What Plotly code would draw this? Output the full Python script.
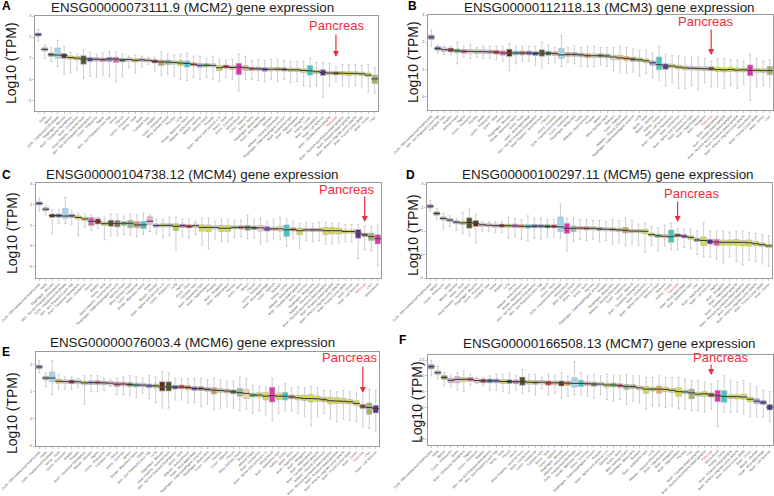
import plotly.graph_objects as go

# ---------------- data ----------------
NAMES = {
    "ADS": "Adipose - Subcutaneous", "ADV": "Adipose - Visceral (Omentum)", "ADR": "Adrenal Gland",
    "AAO": "Artery - Aorta", "ACO": "Artery - Coronary", "ATI": "Artery - Tibial", "BLA": "Bladder",
    "BAM": "Brain - Amygdala", "BAC": "Brain - Anterior cingulate cortex (BA24)",
    "BCA": "Brain - Caudate (basal ganglia)", "BCH": "Brain - Cerebellar Hemisphere",
    "BCE": "Brain - Cerebellum", "BCO": "Brain - Cortex", "BFC": "Brain - Frontal Cortex (BA9)",
    "BHI": "Brain - Hippocampus", "BHY": "Brain - Hypothalamus",
    "BNA": "Brain - Nucleus accumbens (basal ganglia)", "BPU": "Brain - Putamen (basal ganglia)",
    "BSC": "Brain - Spinal cord (cervical c-1)", "BSN": "Brain - Substantia nigra",
    "BRE": "Breast - Mammary Tissue", "LCL": "Cells - EBV-transformed lymphocytes",
    "FIB": "Cells - Transformed fibroblasts", "CEC": "Cervix - Ectocervix", "CEN": "Cervix - Endocervix",
    "COS": "Colon - Sigmoid", "COT": "Colon - Transverse", "EGJ": "Esophagus - Gastroesophageal Junction",
    "EMU": "Esophagus - Mucosa", "EMS": "Esophagus - Muscularis", "FAL": "Fallopian Tube",
    "HAA": "Heart - Atrial Appendage", "HLV": "Heart - Left Ventricle", "KID": "Kidney - Cortex",
    "LIV": "Liver", "LUN": "Lung", "MSG": "Minor Salivary Gland", "MUS": "Muscle - Skeletal",
    "NER": "Nerve - Tibial", "OVA": "Ovary", "PAN": "Pancreas", "PIT": "Pituitary", "PRO": "Prostate",
    "SKN": "Skin - Not Sun Exposed (Suprapubic)", "SKS": "Skin - Sun Exposed (Lower leg)",
    "SIN": "Small Intestine - Terminal Ileum", "SPL": "Spleen", "STO": "Stomach", "TES": "Testis",
    "THY": "Thyroid", "UTE": "Uterus", "VAG": "Vagina", "WBL": "Whole Blood",
}

TITLES = ["ENSG00000073111.9 (MCM2) gene expression",
          "ENSG00000112118.13 (MCM3) gene expression",
          "ENSG00000104738.12 (MCM4) gene expression",
          "ENSG00000100297.11 (MCM5) gene expression",
          "ENSG00000076003.4 (MCM6) gene expression",
          "ENSG00000166508.13 (MCM7) gene expression"]
LETTERS = ["A", "B", "C", "D", "E", "F"]

A_tissues = ["LCL","TES","SPL","FIB","EMU","BCH","BCE","SIN","SKN","CEN","VAG","SKS","UTE","THY","CEC","NER","OVA","FAL","BLA","COT","MSG","PIT","LUN","BRE","ADS","MUS","ADR","PRO","BSC","ATI","ACO","WBL","COS","AAO","EMS","HAA","STO","ADV","EGJ","BSN","BHY","BAM","KID","BHI","HLV","BCA","PAN","BNA","BPU","BAC","BFC","BCO","LIV"]
A_med = [2.12,1.42,1.17,1.15,1.12,1.03,1.0,0.96,0.96,0.95,0.93,0.97,0.96,0.91,0.94,0.9,0.92,0.9,0.85,0.82,0.82,0.8,0.77,0.75,0.71,0.66,0.67,0.66,0.55,0.6,0.56,0.58,0.55,0.5,0.5,0.47,0.48,0.48,0.47,0.45,0.45,0.42,0.4,0.36,0.33,0.3,0.29,0.29,0.28,0.28,0.26,0.2,0.02]
A_q1 = [2.04,1.34,1.08,1.0,1.0,0.95,0.92,0.72,0.85,0.87,0.85,0.84,0.8,0.83,0.86,0.82,0.84,0.82,0.77,0.66,0.7,0.72,0.65,0.58,0.63,0.56,0.59,0.58,0.42,0.52,0.48,0.22,0.42,0.42,0.42,0.38,0.4,0.4,0.39,0.37,0.37,0.32,0.2,0.28,0.18,0.22,0.21,0.2,0.18,0.2,0.18,0.12,-0.2]
A_q3 = [2.2,1.5,1.25,1.48,1.22,1.11,1.08,1.12,1.04,1.03,1.01,1.05,1.05,0.99,1.02,0.98,1.0,0.98,0.93,0.92,0.92,0.88,0.88,0.87,0.79,0.76,0.75,0.74,0.65,0.68,0.64,0.76,0.65,0.58,0.58,0.56,0.56,0.56,0.55,0.53,0.53,0.5,0.65,0.44,0.45,0.38,0.37,0.37,0.36,0.36,0.34,0.3,0.2]
A_lo = [1.82,1.0,0.85,0.62,0.25,0.3,0.45,0.05,0.15,0.1,0.2,0.12,-0.1,0.12,0.55,0.3,0.6,0.7,0.4,0.2,0.25,0.15,0.0,-0.05,0.1,0.0,0.1,0.0,-0.1,0.1,0.0,-0.55,0.0,0.0,-0.05,-0.1,0.0,-0.1,0.0,-0.15,-0.1,-0.3,-0.35,-0.3,-0.85,-0.3,-0.1,-0.3,-0.35,-0.3,-0.35,-0.6,-0.65]
A_hi = [2.35,1.62,1.5,1.85,1.55,1.28,1.2,1.4,1.28,1.2,1.25,1.32,1.3,1.2,1.1,1.15,1.1,1.05,1.05,1.3,1.2,1.15,1.2,1.25,1.1,1.1,1.0,1.1,0.95,0.9,0.95,1.2,1.1,0.9,0.95,0.9,0.95,0.95,0.9,0.85,0.85,0.85,1.0,0.8,0.8,0.75,0.6,0.7,0.7,0.72,0.65,0.7,0.55]

B_tissues = ["LCL","SKS","FAL","BLA","ADR","VAG","CEC","PIT","OVA","CEN","ATI","UTE","EMU","BRE","AAO","HAA","SKN","SIN","THY","ACO","FIB","COT","EMS","TES","ADS","PRO","SPL","MSG","STO","COS","ADV","EGJ","LUN","NER","MUS","KID","HLV","BCH","BCE","BSC","BSN","BHY","BAM","PAN","BHI","BCA","BNA","BPU","BAC","WBL","BFC","BCO","LIV"]
B_med = [2.18,1.77,1.72,1.71,1.68,1.66,1.66,1.65,1.65,1.64,1.63,1.6,1.6,1.6,1.6,1.6,1.58,1.6,1.59,1.58,1.53,1.55,1.55,1.53,1.5,1.5,1.5,1.49,1.45,1.42,1.4,1.37,1.35,1.31,1.24,1.17,1.12,1.12,1.08,1.05,1.04,1.03,1.02,1.02,0.99,0.98,0.99,0.97,0.98,0.96,0.96,0.95,0.95]
B_q1 = [2.1,1.7,1.65,1.64,1.61,1.59,1.59,1.58,1.58,1.57,1.56,1.52,1.47,1.53,1.53,1.53,1.51,1.48,1.52,1.51,1.4,1.48,1.48,1.46,1.43,1.43,1.43,1.42,1.35,1.35,1.33,1.3,1.28,1.24,1.15,0.98,1.0,1.05,1.01,0.98,0.97,0.96,0.95,0.95,0.92,0.9,0.92,0.9,0.91,0.76,0.89,0.88,0.8]
B_q3 = [2.26,1.84,1.79,1.78,1.75,1.73,1.73,1.72,1.72,1.71,1.7,1.68,1.74,1.67,1.67,1.67,1.65,1.72,1.66,1.65,1.77,1.62,1.62,1.6,1.57,1.57,1.57,1.56,1.52,1.52,1.47,1.44,1.42,1.38,1.31,1.45,1.2,1.19,1.15,1.12,1.11,1.1,1.09,1.09,1.07,1.05,1.06,1.05,1.05,1.16,1.03,1.02,1.1]
B_lo = [1.85,1.6,1.55,1.55,1.2,1.45,1.4,1.45,1.4,1.4,1.35,1.3,0.95,1.2,1.3,1.3,1.15,1.05,1.2,1.25,1.1,1.25,1.2,1.1,1.1,1.1,1.15,1.1,0.95,0.9,0.85,0.9,0.75,0.85,0.7,0.6,0.4,0.5,0.3,0.3,0.4,0.25,0.5,0.35,0.35,0.3,0.4,0.3,0.45,-0.15,0.35,0.4,0.35]
B_hi = [2.45,1.9,1.85,1.85,2.0,1.85,1.9,1.8,1.85,1.85,1.85,1.85,1.95,1.85,1.85,1.85,1.85,2.0,1.9,1.8,2.25,1.8,1.85,1.8,1.85,1.85,1.8,1.8,1.8,1.85,1.8,1.75,1.7,1.7,1.6,1.85,1.55,1.5,1.5,1.45,1.45,1.45,1.4,1.3,1.4,1.4,1.35,1.35,1.3,1.55,1.4,1.3,1.35]

C_tissues = ["LCL","TES","EMU","SKN","FIB","SKS","BCH","BCE","UTE","BLA","NER","SIN","EGJ","ADR","MSG","COT","BRE","OVA","MUS","BSC","CEN","LUN","VAG","ATI","FAL","BSN","BHY","PRO","BAM","BHI","PIT","AAO","SPL","THY","CEC","HAA","COS","STO","KID","ADS","BCA","ACO","EMS","ADV","BNA","BPU","BAC","BFC","BCO","HLV","PAN","LIV","WBL"]
C_med = [2.06,1.78,1.47,1.47,1.45,1.46,1.38,1.31,1.2,1.18,1.08,1.1,1.08,1.1,1.1,1.02,1.02,1.2,0.99,1.0,1.0,0.95,0.98,0.95,0.98,0.9,0.9,0.9,0.86,0.86,0.9,0.9,0.9,0.88,0.88,0.82,0.83,0.83,0.78,0.8,0.74,0.78,0.78,0.78,0.74,0.74,0.74,0.7,0.7,0.62,0.54,0.45,0.35]
C_q1 = [1.98,1.7,1.38,1.39,1.34,1.38,1.3,1.23,0.99,1.06,1.0,0.95,0.92,1.0,0.88,0.88,0.84,1.04,0.91,0.92,0.92,0.75,0.9,0.87,0.9,0.72,0.7,0.82,0.7,0.7,0.82,0.82,0.76,0.8,0.72,0.72,0.75,0.72,0.46,0.72,0.55,0.7,0.7,0.7,0.55,0.58,0.58,0.62,0.62,0.38,0.46,0.26,0.1]
C_q3 = [2.14,1.86,1.55,1.55,1.82,1.54,1.46,1.39,1.38,1.32,1.16,1.25,1.24,1.18,1.25,1.18,1.18,1.42,1.07,1.08,1.08,1.08,1.06,1.03,1.06,1.03,1.02,0.98,1.0,1.0,0.98,0.98,1.0,0.96,1.0,0.95,0.91,0.95,1.02,0.88,0.87,0.86,0.86,0.86,0.9,0.9,0.87,0.78,0.78,0.8,0.62,0.62,0.55]
C_lo = [1.7,1.5,0.62,1.1,1.1,1.05,0.5,0.9,0.75,0.85,0.3,0.5,0.5,0.55,0.5,0.45,0.55,0.7,0.6,0.4,0.5,-0.2,0.45,0.4,0.55,0.05,-0.15,0.35,0.2,0.2,0.4,0.45,0.35,0.4,0.1,0.2,0.35,0.3,0.0,0.35,-0.1,0.25,0.2,0.25,0.1,0.1,0.15,0.2,0.2,-0.6,-0.2,-0.25,-0.95]
C_hi = [2.3,1.95,1.75,1.75,2.35,1.75,1.6,1.55,1.5,1.4,1.4,1.55,1.55,1.45,1.55,1.5,1.6,1.5,1.3,1.3,1.4,1.4,1.3,1.3,1.2,1.35,1.35,1.2,1.3,1.3,1.25,1.25,1.5,1.3,1.35,1.2,1.3,1.4,1.3,1.2,1.1,1.15,1.1,1.15,1.15,1.1,1.1,1.05,1.05,1.05,0.95,0.95,1.0]

D_tissues = ["LCL","SPL","CEN","TES","MUS","NER","SIN","EMU","CEC","FAL","OVA","BLA","LUN","UTE","ADS","BRE","SKN","SKS","THY","ATI","FIB","WBL","MSG","ACO","AAO","PIT","EGJ","PRO","EMS","ADV","COT","COS","BCH","BCE","BSC","ADR","STO","KID","PAN","HAA","BSN","LIV","BHY","HLV","VAG","BAM","BHI","BCA","BNA","BPU","BAC","BFC","BCO"]
D_med = [2.06,1.75,1.54,1.47,1.38,1.35,1.37,1.33,1.27,1.25,1.23,1.23,1.23,1.22,1.21,1.2,1.21,1.21,1.2,1.2,1.18,1.12,1.12,1.13,1.12,1.12,1.09,1.08,1.07,1.05,1.03,1.0,1.0,0.99,0.85,0.8,0.78,0.76,0.82,0.78,0.73,0.62,0.6,0.55,0.53,0.52,0.52,0.52,0.52,0.5,0.46,0.42,0.37]
D_q1 = [1.98,1.68,1.47,1.4,1.31,1.28,1.12,1.2,1.2,1.18,1.16,1.16,1.16,1.15,1.14,1.12,1.14,1.14,1.13,1.13,0.98,0.9,0.98,1.06,1.05,1.05,1.02,1.01,1.0,0.98,0.92,0.93,0.93,0.88,0.78,0.73,0.71,0.52,0.75,0.71,0.65,0.55,0.38,0.45,0.38,0.4,0.4,0.4,0.38,0.36,0.38,0.34,0.3]
D_q3 = [2.13,1.82,1.61,1.54,1.45,1.42,1.57,1.45,1.34,1.32,1.3,1.3,1.3,1.3,1.28,1.28,1.28,1.28,1.27,1.27,1.6,1.33,1.22,1.2,1.19,1.19,1.16,1.15,1.14,1.12,1.16,1.07,1.07,1.08,0.92,0.87,0.85,1.05,0.89,0.85,0.8,0.7,0.75,0.65,0.65,0.62,0.62,0.64,0.6,0.62,0.56,0.5,0.44]
D_lo = [1.85,1.5,1.1,1.2,1.05,0.9,0.8,0.5,1.0,1.0,0.95,0.95,0.7,0.75,0.65,0.6,0.7,0.65,0.75,0.75,0.7,0.15,0.55,0.65,0.6,0.65,0.55,0.6,0.45,0.5,0.4,0.45,0.4,0.1,0.4,0.15,0.35,0.2,0.2,0.3,0.25,0.0,-0.1,-0.1,-0.2,-0.35,-0.1,-0.3,-0.45,-0.25,-0.3,-0.4,-0.5]
D_hi = [2.3,1.95,1.75,1.65,1.55,1.8,1.95,1.7,1.4,1.4,1.4,1.4,1.6,1.55,1.5,1.65,1.55,1.55,1.5,1.5,2.15,1.55,1.55,1.5,1.5,1.45,1.45,1.4,1.5,1.45,1.55,1.45,1.3,1.35,1.2,1.15,1.25,1.35,1.1,1.1,1.1,1.0,1.35,1.0,1.0,1.0,0.95,1.0,1.0,0.95,0.9,0.85,0.8]

E_tissues = ["LCL","TES","FIB","NER","CEC","BLA","PRO","BCH","MUS","VAG","CEN","FAL","UTE","ACO","SPL","BRE","OVA","SKS","LUN","EMU","SIN","SKN","ATI","ADS","HAA","EGJ","EMS","COT","PIT","COS","THY","MSG","STO","ADR","BCE","BSC","WBL","BSN","KID","AAO","BHY","BAM","BHI","BCA","ADV","BNA","BPU","BAC","BFC","BCO","PAN","LIV","HLV"]
E_med = [1.92,1.51,1.51,1.39,1.38,1.37,1.37,1.33,1.34,1.34,1.33,1.32,1.28,1.29,1.27,1.25,1.25,1.22,1.22,1.18,1.18,1.17,1.18,1.16,1.12,1.12,1.09,1.06,1.05,1.03,1.0,0.97,0.94,0.88,0.88,0.84,0.86,0.84,0.84,0.81,0.78,0.75,0.75,0.74,0.71,0.67,0.66,0.65,0.63,0.57,0.47,0.42,0.38]
E_q1 = [1.85,1.44,1.37,1.32,1.31,1.3,1.3,1.26,1.27,1.27,1.26,1.25,1.2,1.22,1.2,1.18,1.18,1.15,1.15,1.03,1.03,1.1,1.11,1.09,1.05,1.05,1.02,0.92,0.98,0.96,0.93,0.84,0.75,0.81,0.8,0.7,0.62,0.72,0.7,0.74,0.7,0.68,0.62,0.65,0.63,0.55,0.56,0.56,0.55,0.5,0.38,0.17,0.22]
E_q3 = [1.99,1.58,1.73,1.46,1.45,1.44,1.44,1.4,1.41,1.41,1.4,1.39,1.36,1.36,1.34,1.32,1.32,1.29,1.29,1.37,1.37,1.24,1.25,1.23,1.19,1.19,1.16,1.15,1.12,1.1,1.07,1.12,1.08,0.95,0.97,0.97,1.17,0.95,0.98,0.88,0.88,0.88,0.9,0.85,0.8,0.8,0.78,0.76,0.72,0.67,0.54,0.59,0.5]
E_lo = [1.7,1.2,0.9,1.1,1.1,1.1,1.15,0.55,1.0,1.0,1.05,1.2,0.9,0.9,0.85,0.8,0.95,0.75,0.6,0.4,0.4,0.7,0.7,0.6,0.6,0.45,0.55,0.35,0.4,0.45,0.4,0.3,0.35,0.2,0.3,0.15,-0.05,0.2,0.3,0.3,0.2,0.1,-0.25,0.1,0.2,0.0,-0.1,0.0,-0.05,-0.1,-0.3,-0.35,-0.45]
E_hi = [2.15,1.7,2.15,1.65,1.55,1.55,1.5,1.6,1.6,1.6,1.5,1.45,1.5,1.55,1.6,1.55,1.5,1.6,1.55,1.75,1.7,1.5,1.5,1.5,1.5,1.5,1.45,1.5,1.45,1.4,1.4,1.55,1.5,1.25,1.2,1.2,1.5,1.2,1.3,1.15,1.2,1.15,1.2,1.15,1.05,1.05,1.0,1.05,1.0,0.95,0.9,1.1,1.05]

F_tissues = ["LCL","TES","SPL","CEN","OVA","BCH","VAG","CEC","BLA","SKN","SKS","NER","THY","UTE","SIN","BCE","COT","FAL","ATI","COS","EMU","ADS","FIB","BRE","ACO","EGJ","PRO","BSC","ADR","AAO","MSG","EMS","STO","BSN","LUN","ADV","BHY","BAM","BHI","PIT","LIV","BCA","BNA","PAN","WBL","KID","BPU","BAC","BFC","BCO","MUS","HAA","HLV"]
F_med = [2.29,2.1,1.95,1.86,1.89,1.89,1.89,1.85,1.84,1.84,1.84,1.82,1.82,1.81,1.82,1.8,1.79,1.8,1.78,1.78,1.77,1.77,1.76,1.76,1.75,1.74,1.74,1.71,1.71,1.69,1.66,1.66,1.62,1.58,1.58,1.58,1.57,1.54,1.5,1.49,1.46,1.42,1.43,1.4,1.37,1.35,1.34,1.34,1.33,1.26,1.2,1.15,1.01]
F_q1 = [2.22,2.04,1.89,1.78,1.78,1.82,1.83,1.79,1.78,1.78,1.78,1.76,1.76,1.75,1.7,1.74,1.73,1.74,1.7,1.72,1.68,1.7,1.64,1.66,1.69,1.67,1.68,1.64,1.65,1.63,1.57,1.6,1.56,1.45,1.52,1.45,1.5,1.47,1.35,1.43,1.27,1.36,1.35,1.33,1.18,1.16,1.28,1.27,1.26,1.18,1.12,1.09,0.92]
F_q3 = [2.36,2.16,2.01,1.92,1.98,1.95,1.95,1.91,1.9,1.9,1.9,1.88,1.88,1.87,1.96,1.86,1.85,1.86,1.84,1.84,1.84,1.83,1.94,1.86,1.81,1.8,1.8,1.77,1.77,1.75,1.73,1.72,1.68,1.67,1.64,1.68,1.64,1.6,1.62,1.55,1.58,1.48,1.5,1.46,1.54,1.53,1.4,1.4,1.42,1.33,1.28,1.22,1.09]
F_lo = [2.0,1.9,1.7,1.65,1.55,1.5,1.7,1.75,1.7,1.55,1.55,1.5,1.45,1.55,1.45,1.5,1.4,1.6,1.4,1.45,1.3,1.35,1.4,1.4,1.35,1.3,1.4,1.25,1.2,1.25,1.1,1.2,1.15,0.95,1.05,1.05,1.0,1.05,0.95,0.95,0.9,0.9,0.85,0.95,0.4,0.85,0.85,0.85,0.8,0.7,0.7,0.7,0.55]
F_hi = [2.5,2.3,2.1,2.0,2.1,2.15,2.05,1.95,1.95,2.0,2.05,2.05,2.1,2.0,2.2,2.05,2.05,1.95,2.05,2.0,2.1,2.0,2.45,2.1,2.0,2.05,2.0,2.05,2.0,2.0,2.05,2.0,2.0,1.95,1.95,2.0,1.95,1.95,1.95,1.9,1.85,1.85,1.8,1.75,1.85,2.0,1.85,1.8,1.85,1.75,1.65,1.55,1.5]

# ---------------- styles ----------------
BRAIN = "#d6dc3e"
COLORS = {
    "LCL": "#8a74bd", "TES": "#a8a8a8", "FIB": "#9dd6ea", "SPL": "#7a8a56", "EMU": "#5a2c16",
    "SIN": "#505424", "SKN": "#3553b0", "SKS": "#7a78d4", "THY": "#1f6b38", "NER": "#e2cc30",
    "CEC": "#f0c8cc", "CEN": "#c8a8d6", "FAL": "#f3ccd0", "UTE": "#e05cb4", "VAG": "#e05a92",
    "OVA": "#eeaadc", "BLA": "#9c1c2c", "COT": "#c89a60", "COS": "#e6bb80", "MSG": "#98b48c",
    "PIT": "#acdc98", "LUN": "#a8d43c", "BRE": "#3ec4c8", "KID": "#3cc8be", "ADS": "#ee7a30",
    "ADV": "#eea836", "ADR": "#4cc44c", "PRO": "#d6d6d6", "ATI": "#e02424", "ACO": "#f0a090",
    "AAO": "#e45a5a", "EMS": "#b89a8c", "EGJ": "#8b7358", "STO": "#f2d69c", "HAA": "#8450d0",
    "HLV": "#5c2c8c", "MUS": "#a4a4ec", "PAN": "#8e4e20", "LIV": "#a2b268", "WBL": "#dc34ac",
}
for k in NAMES:
    if k.startswith("B") and k not in ("BLA", "BRE"):
        COLORS[k] = BRAIN

W, H = 774, 496
PANEL_PX = [(35, 378, 16, 111), (428, 773, 15, 110), (36, 381, 183, 278),
            (427, 772, 183, 278), (36, 379, 352, 446), (428, 773, 355, 445)]
YRANGES = [(-1.5, 3.0), (-0.5, 3.0), (-1.55, 3.05), (-1.0, 3.05), (-1.0, 2.47), (-0.19, 2.66)]
DTICKS = [1, 1, 1, 1, 1, 0.5]
TITLE_POS = [(192, 7.5), (609, 7.5), (192, 175), (608, 175), (192, 342), (609, 343)]
LETTER_POS = [(6, 6.5), (412, 6.5), (6, 175), (410, 175), (6, 352), (403, 340)]
YLAB_POS = [(11, 63), (413, 62), (12, 233), (413, 235), (12, 413), (417, 402)]
PANC_TXT = [(336, 25), (705, 22), (346, 189), (691, 193), (349, 357), (720, 357)]
ARROW = [(57, 24), (55, 27), (222, 27), (222, 22), (393, 28), (375, 12)]  # head y px, length px

panels = [
    (A_tissues, A_med, A_q1, A_q3, A_lo, A_hi),
    (B_tissues, B_med, B_q1, B_q3, B_lo, B_hi),
    (C_tissues, C_med, C_q1, C_q3, C_lo, C_hi),
    (D_tissues, D_med, D_q1, D_q3, D_lo, D_hi),
    (E_tissues, E_med, E_q1, E_q3, E_lo, E_hi),
    (F_tissues, F_med, F_q1, F_q3, F_lo, F_hi),
]

fig = go.Figure()
FONT = "Liberation Sans, Arial, sans-serif"
layout = dict(width=W, height=H, margin=dict(l=0, r=0, t=0, b=0, pad=0, autoexpand=False),
              autosize=False, template="none",
              paper_bgcolor="white", plot_bgcolor="white", showlegend=False,
              boxmode="overlay", font=dict(family=FONT))
annotations = []

for p, (tis, med, q1, q3, lo, hi) in enumerate(panels):
    for arr in (tis, med, q1, q3, lo, hi):
        assert len(arr) == 53, (p, len(arr))
    n = "" if p == 0 else str(p + 1)
    xa, ya = "x" + n, "y" + n
    x0, x1, y0, y1 = PANEL_PX[p]
    xs = list(range(len(tis)))
    for i, key in enumerate(tis):
        fig.add_trace(go.Box(
            x=[i], q1=[q1[i]], median=[med[i]], q3=[q3[i]],
            lowerfence=[lo[i]], upperfence=[hi[i]],
            fillcolor=COLORS[key], line=dict(color="#b8b8b8", width=0.7),
            width=0.84, whiskerwidth=0.4, boxpoints=False,
            xaxis=xa, yaxis=ya, hoverinfo="skip", showlegend=False))
    fig.add_trace(go.Scatter(
        x=xs, y=med, mode="markers", xaxis=xa, yaxis=ya, hoverinfo="skip", showlegend=False,
        marker=dict(symbol="line-ew-open", size=5, color="#2a2a2a",
                    line=dict(color="#2a2a2a", width=0.9))))

    ticktext = []
    for key in tis:
        if key == "PAN":
            ticktext.append("<span style='color:#e8303a'>" + NAMES[key] + "</span>")
        else:
            ticktext.append(NAMES[key])
    layout["xaxis" + n] = dict(
        domain=[x0 / W, x1 / W], anchor=ya, range=[-0.5, len(tis) - 0.5], automargin=False,
        tickmode="array", tickvals=xs, ticktext=ticktext, tickangle=-45,
        tickfont=dict(size=3.2, color="#444444", family=FONT),
        ticks="outside", ticklen=2, tickwidth=0.5, tickcolor="#9a9a9a",
        showline=True, mirror=True, linecolor="#9a9a9a", linewidth=1,
        showgrid=False, zeroline=False)
    ytf = ".1f" if DTICKS[p] < 1 else ""
    layout["yaxis" + n] = dict(
        domain=[1 - y1 / H, 1 - y0 / H], anchor=xa, range=list(YRANGES[p]), automargin=False,
        dtick=DTICKS[p], tick0=0, tickformat=ytf,
        tickfont=dict(size=3.6, color="#555555", family=FONT),
        ticks="outside", ticklen=2, tickwidth=0.5, tickcolor="#9a9a9a",
        showline=True, mirror=True, linecolor="#9a9a9a", linewidth=1,
        showgrid=False, zeroline=False)

    tx, ty = TITLE_POS[p]
    annotations.append(dict(text=TITLES[p], x=tx / W, y=1 - ty / H, xref="paper", yref="paper",
                            showarrow=False, xanchor="center", yanchor="middle",
                            font=dict(size=13.4, color="#1a1a1a", family=FONT)))
    lx, ly = LETTER_POS[p]
    annotations.append(dict(text="<b>" + LETTERS[p] + "</b>", x=lx / W, y=1 - ly / H,
                            xref="paper", yref="paper", showarrow=False,
                            xanchor="center", yanchor="middle",
                            font=dict(size=12, color="#000000", family=FONT)))
    yx, yy = YLAB_POS[p]
    annotations.append(dict(text="Log10 (TPM)", x=yx / W, y=1 - yy / H, xref="paper", yref="paper",
                            showarrow=False, textangle=-90, xanchor="center", yanchor="middle",
                            font=dict(size=14, color="#1a1a1a", family=FONT)))
    px_, py_ = PANC_TXT[p]
    annotations.append(dict(text="Pancreas", x=px_ / W, y=1 - py_ / H, xref="paper", yref="paper",
                            showarrow=False, xanchor="center", yanchor="middle",
                            font=dict(size=13, color="#e8303a", family=FONT)))
    head_y, length = ARROW[p]
    annotations.append(dict(text="", x=tis.index("PAN"), y=1 - head_y / H, xref=xa, yref="paper",
                            showarrow=True, ax=0, ay=-length, arrowhead=2, arrowsize=1,
                            arrowwidth=1.2, arrowcolor="#e8303a"))

layout["annotations"] = annotations
fig.update_layout(**layout)
fig.write_html("out.html", config={"displayModeBar": False, "staticPlot": True},
               post_script="document.body.style.margin='0px';")
